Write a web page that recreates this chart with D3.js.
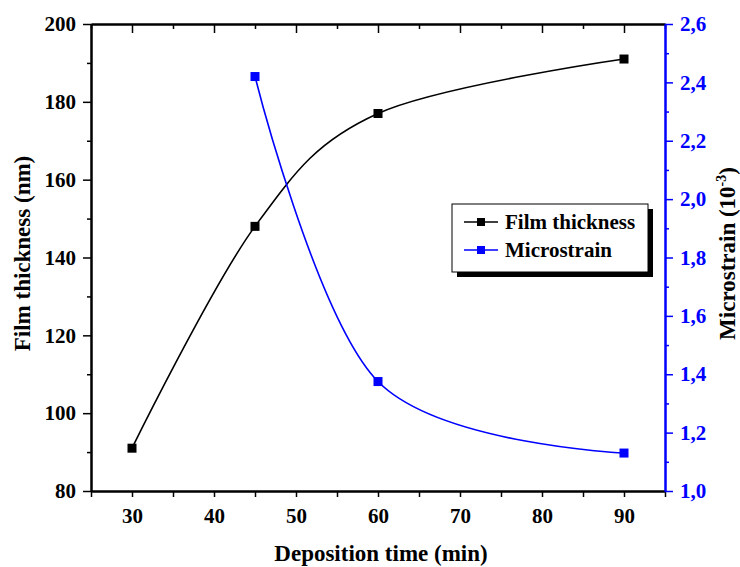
<!DOCTYPE html>
<html>
  <head>
    <meta charset="utf-8" />
    <script src="https://d3js.org/d3.v7.min.js"></script>
    <style>
      body { margin: 0; background: #fff; }
      svg text { font-family: "Liberation Serif", "DejaVu Serif", "Times New Roman", Times, serif !important; font-weight: bold; }
    </style>
  </head>
  <body>
    <svg width="740" height="567" id="chart"></svg>
    <script>
      // data
      const thickTime = [30, 45, 60, 90];
      const thickness = [91, 148, 177, 191];
      const strainTime = [45, 60, 90];
      const microstrain = [2.42, 1.375, 1.13];

      const xMajor = [30, 40, 50, 60, 70, 80, 90];
      const xMinor = [25, 35, 45, 55, 65, 75, 85, 95];
      const yLeftMajor = [80, 100, 120, 140, 160, 180, 200];
      const yLeftMinor = [90, 110, 130, 150, 170, 190];
      const yRightMajor = [1.0, 1.2, 1.4, 1.6, 1.8, 2.0, 2.2, 2.4, 2.6];
      const yRightMinor = [1.1, 1.3, 1.5, 1.7, 1.9, 2.1, 2.3, 2.5];

      const svg = d3.select("svg#chart");
      const pl = 91, pr = 665, pt = 24, pb = 491;
      const blue = "#0000ff";

      const x = d3.scaleLinear().domain([25, 95]).range([pl, pr]);
      const yL = d3.scaleLinear().domain([80, 200]).range([pb, pt]);
      const yR = d3.scaleLinear().domain([1.0, 2.6]).range([pb, pt]);

      const fmtComma = (d) => d3.format(".1f")(d).replace(".", ",");

      function styleAxis(g, color) {
        g.attr("font-family", null);
        g.select(".domain").attr("stroke", color).attr("stroke-width", 2);
        g.selectAll(".tick line").attr("stroke", color).attr("stroke-width", 1.5);
        g.selectAll(".tick text")
          .attr("fill", color)
          .style("font-size", "21px");
      }

      // bottom axis
      svg.append("g")
        .attr("transform", `translate(0,${pb})`)
        .call(d3.axisBottom(x).tickValues(xMinor).tickSize(6).tickFormat("").tickSizeOuter(0))
        .call((g) => styleAxis(g, "#000"));
      svg.append("g")
        .attr("transform", `translate(0,${pb})`)
        .call(d3.axisBottom(x).tickValues(xMajor).tickSize(6).tickPadding(11).tickSizeOuter(0))
        .call((g) => styleAxis(g, "#000"));

      // top axis (ticks inward, no labels)
      svg.append("g")
        .attr("transform", `translate(0,${pt})`)
        .call(d3.axisBottom(x).tickValues(xMinor).tickSize(5).tickFormat("").tickSizeOuter(0))
        .call((g) => styleAxis(g, "#000"));
      svg.append("g")
        .attr("transform", `translate(0,${pt})`)
        .call(d3.axisBottom(x).tickValues(xMajor).tickSize(9).tickFormat("").tickSizeOuter(0))
        .call((g) => styleAxis(g, "#000"));

      // left axis
      svg.append("g")
        .attr("transform", `translate(${pl},0)`)
        .call(d3.axisLeft(yL).tickValues(yLeftMinor).tickSize(4).tickFormat("").tickSizeOuter(0))
        .call((g) => styleAxis(g, "#000"));
      svg.append("g")
        .attr("transform", `translate(${pl},0)`)
        .call(d3.axisLeft(yL).tickValues(yLeftMajor).tickSize(8).tickPadding(7).tickSizeOuter(0))
        .call((g) => styleAxis(g, "#000"));

      // right axis (blue)
      svg.append("g")
        .attr("transform", `translate(${pr},0)`)
        .call(d3.axisRight(yR).tickValues(yRightMinor).tickSize(4).tickFormat("").tickSizeOuter(0))
        .call((g) => styleAxis(g, blue));
      svg.append("g")
        .attr("transform", `translate(${pr},0)`)
        .call(d3.axisRight(yR).tickValues(yRightMajor).tickSize(8).tickPadding(7).tickFormat(fmtComma).tickSizeOuter(0))
        .call((g) => styleAxis(g, blue));

      // curves
      const thickData = thickTime.map((t, i) => [t, thickness[i]]);
      const strainData = strainTime.map((t, i) => [t, microstrain[i]]);

      const lineL = d3.line()
        .x((d) => x(d[0]))
        .y((d) => yL(d[1]))
        .curve(d3.curveCatmullRom.alpha(0));
      const lineR = d3.line()
        .x((d) => x(d[0]))
        .y((d) => yR(d[1]))
        .curve(d3.curveCatmullRom.alpha(0));

      svg.append("path")
        .attr("d", lineL(thickData))
        .attr("fill", "none")
        .attr("stroke", "#000")
        .attr("stroke-width", 1.6);
      svg.append("path")
        .attr("d", lineR(strainData))
        .attr("fill", "none")
        .attr("stroke", blue)
        .attr("stroke-width", 1.6);

      const ms = 9;
      svg.selectAll("rect.thick")
        .data(thickData)
        .join("rect")
        .attr("class", "thick")
        .attr("x", (d) => x(d[0]) - ms / 2)
        .attr("y", (d) => yL(d[1]) - ms / 2)
        .attr("width", ms)
        .attr("height", ms)
        .attr("fill", "#000");
      svg.selectAll("rect.strain")
        .data(strainData)
        .join("rect")
        .attr("class", "strain")
        .attr("x", (d) => x(d[0]) - ms / 2)
        .attr("y", (d) => yR(d[1]) - ms / 2)
        .attr("width", ms)
        .attr("height", ms)
        .attr("fill", blue);

      // axis titles
      svg.append("text")
        .attr("x", (pl + pr) / 2 + 3)
        .attr("y", 561)
        .attr("text-anchor", "middle")
        .style("font-size", "23px")
        .text("Deposition time (min)");

      svg.append("text")
        .attr("transform", `translate(30,${(pt + pb) / 2 - 4}) rotate(-90)`)
        .attr("text-anchor", "middle")
        .style("font-size", "23px")
        .text("Film thickness (nm)");

      const rt = svg.append("text")
        .attr("transform", `translate(735,${(pt + pb) / 2 - 4}) rotate(-90)`)
        .attr("text-anchor", "middle")
        .style("font-size", "23px");
      rt.append("tspan").text("Microstrain (10");
      rt.append("tspan").attr("dy", -9).style("font-size", "14px").text("-3");
      rt.append("tspan").attr("dy", 9).text(")");

      // legend
      const lg = svg.append("g").attr("transform", "translate(452,204)");
      lg.append("rect").attr("x", 5).attr("y", 5).attr("width", 196).attr("height", 68).attr("fill", "#000");
      lg.append("rect").attr("width", 196).attr("height", 68).attr("fill", "#fff").attr("stroke", "#000").attr("stroke-width", 1);
      const entries = [
        { label: "Film thickness", color: "#000" },
        { label: "Microstrain", color: blue },
      ];
      entries.forEach((e, i) => {
        const cy = 18 + i * 28;
        lg.append("line")
          .attr("x1", 12).attr("x2", 46)
          .attr("y1", cy).attr("y2", cy)
          .attr("stroke", e.color).attr("stroke-width", 1.6);
        lg.append("rect")
          .attr("x", 29 - 4).attr("y", cy - 4)
          .attr("width", 8).attr("height", 8)
          .attr("fill", e.color);
        lg.append("text")
          .attr("x", 53).attr("y", cy + 7)
          .style("font-size", "21px")
          .text(e.label);
      });
    </script>
  </body>
</html>
